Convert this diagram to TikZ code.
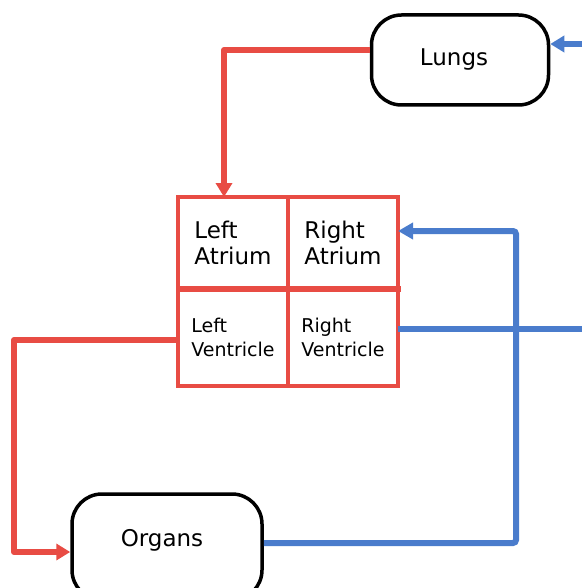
\documentclass[tikz,border=0pt]{standalone}
\usepackage{fontspec}
\setmainfont{DejaVu Sans}
\usetikzlibrary{positioning,arrows.meta}
\definecolor{heartred}{RGB}{232,76,68}
\definecolor{veinblue}{RGB}{74,124,204}
\tikzset{
  organ/.style={draw, line width=3.5pt, rounded corners=30pt, minimum width=177pt, minimum height=90pt},
  organtext/.style={font=\fontsize{23}{27}\selectfont},
  cell/.style={draw=heartred, line width=4pt, outer sep=0pt, minimum width=110pt, align=left},
  atrium/.style={cell, minimum height=92pt, font=\fontsize{23}{26}\selectfont},
  ventricle/.style={cell, minimum height=97pt, font=\fontsize{19}{24}\selectfont},
  redflow/.style={heartred, line width=6pt, line join=round, -{Triangle[length=14pt,width=16pt]}},
  blueflow/.style={veinblue, line width=6pt},
}

\begin{document}
\begin{tikzpicture}[x=1pt, y=-1pt]
  \clip (0,0) rectangle (582,588);
  % lungs and organs
  \node[organ, label={[organtext, xshift=-6pt]center:Lungs}] (Lungs) at (460,60) {};
  \node[organ, minimum width=190pt, minimum height=106pt, label={[organtext, xshift=-5pt, yshift=7pt]center:Organs}] (Organs) at (167,547) {};
  % the heart
  \node[atrium] (LA) at (233,243) {Left\\Atrium};
  \node[atrium, right=0pt of LA] (RA) {Right\\Atrium};
  \node[ventricle, below=0pt of LA] (LV) {Left\\Ventricle};
  \node[ventricle, below=0pt of RA] (RV) {Right\\Ventricle};
  \draw[heartred, line width=6pt] (LA.south west) -- ([xshift=3pt]RA.south east);
  \coordinate (lungsIn) at (582,44);
  \coordinate (rvOut) at (582,328.5);
  % flow
  \draw[redflow] ([yshift=10pt]Lungs.west) -| ([xshift=-9pt]LA.north);
  \draw[redflow] ([yshift=-2.5pt]LV.west) -- (14,340) |- ([yshift=-5pt]Organs.west);
  \draw[blueflow, rounded corners=3pt, -{Triangle[length=15pt,width=16pt]}] ([yshift=4pt]Organs.east) -| (516,231) -- ([yshift=12pt]RA.east);
  \draw[blueflow] ([yshift=9pt]RV.east) -- (rvOut);
  \draw[blueflow, -{Triangle[length=14pt,width=16pt]}] (lungsIn) -- ([yshift=16pt]Lungs.east);
\end{tikzpicture}
\end{document}
